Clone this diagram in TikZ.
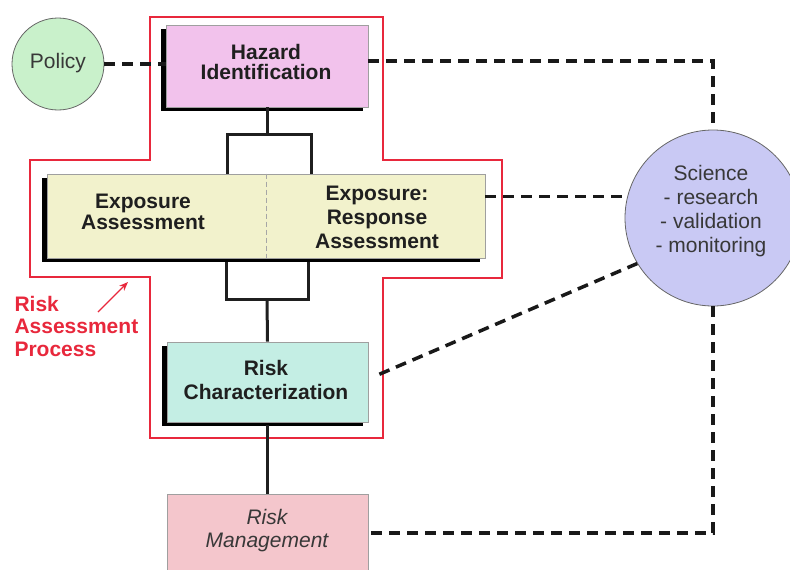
\documentclass[tikz,border=0pt]{standalone}
\usepackage{fontspec}
\setmainfont{Liberation Sans}
\usetikzlibrary{shadows,arrows.meta,calc}
\definecolor{polgreen}{HTML}{C9F1CB}
\definecolor{hazpink}{HTML}{F2C2EC}
\definecolor{expyellow}{HTML}{F2F2CC}
\definecolor{rcteal}{HTML}{C4EEE4}
\definecolor{rmpink}{HTML}{F4C6CC}
\definecolor{scilav}{HTML}{C9C9F4}
\definecolor{rared}{HTML}{E8283C}
\definecolor{txtgray}{HTML}{383838}
\begin{document}
\begin{tikzpicture}[x=1pt,y=-1pt,
  box/.style={draw=gray!75, line width=0.7pt, rectangle, inner sep=0pt},
  shad/.style={general shadow={fill=black, shadow xshift=-5pt, shadow yshift=-4pt}},
  circ/.style={draw=gray!80!black, line width=0.8pt, circle, inner sep=0pt},
  lbl/.style={font=\fontsize{21}{22}\selectfont\bfseries, align=center, text=black!88},
  plain/.style={font=\fontsize{21}{24}\selectfont, align=center, text=txtgray},
  conn/.style={line width=3pt, black!88},
  dconn/.style={line width=3.5pt, dash pattern=on 11pt off 7pt, black!90},
  redline/.style={draw=rared, line width=1.1pt},
]
\useasboundingbox (0,0) rectangle (790,570);

% red risk assessment outline
\draw[redline] (150,17) -- (383,17) -- (383,160) -- (502,160) -- (502,278)
  -- (383,278) -- (383,438) -- (150,438) -- (150,277) -- (30,277) -- (30,160)
  -- (150,160) -- cycle;

% boxes
\node[box, shad, fill=hazpink, minimum width=202pt, minimum height=82pt] (haz) at (267,66) {};
\node[lbl, font=\fontsize{21}{20}\selectfont\bfseries] (hazt) at (266,62) {Hazard\\Identification};

\node[box, shad, fill=expyellow, minimum width=438pt, minimum height=84pt] (exp) at (266,216) {};
\draw[gray!70, line width=0.8pt, dash pattern=on 5pt off 3pt] (exp.north) -- (exp.south);
\node[lbl, font=\fontsize{21}{21}\selectfont\bfseries] (expl) at (143,212) {Exposure\\Assessment};
\node[lbl, font=\fontsize{21}{24}\selectfont\bfseries] (expr) at (377,217) {Exposure:\\Response\\Assessment};

\node[box, shad, fill=rcteal, minimum width=201pt, minimum height=80pt] (rc) at (267.5,382) {};
\node[lbl, font=\fontsize{21}{24}\selectfont\bfseries] (rct) at (266,380) {Risk\\Characterization};

\node[box, fill=rmpink, minimum width=201pt, minimum height=78pt] (rm) at (267.5,533) {};
\node[plain, font=\fontsize{21}{23}\selectfont\itshape] (rmt) at (267,531) {Risk\\Management};

% circles
\node[circ, fill=polgreen, minimum size=92pt] (pol) at (58,64) {};
\node[plain] (polt) at (58,63) {Policy};

\node[circ, fill=scilav, minimum size=176pt] (sci) at (713,218) {};
\node[plain] (scit) at (711,211) {Science\\- research\\- validation\\- monitoring};

% red label and arrow
\node[font=\fontsize{21}{22.5}\selectfont\bfseries, text=rared, align=left, anchor=west] (rap) at (11,326) {Risk\\Assessment\\Process};
\coordinate (arrtail) at (98,312);
\coordinate (arrtip) at (128,282);
\draw[draw=rared, line width=1.2pt, -{Stealth[length=9pt,width=7pt]}] (arrtail) -- (arrtip);

% solid connectors
\coordinate (ub) at (267,134);
\coordinate (ubl) at (227,134);
\coordinate (ubr) at (311,134);
\draw[conn] (haz.south) -- (ub);
\draw[conn] (ubl |- exp.north) -- (ubl) -- (ubr) -- (ubr |- exp.north);
\coordinate (lb) at (267,299);
\coordinate (lbl) at (226,299);
\coordinate (lbr) at (308,299);
\draw[conn] ($(lbl |- exp.south)+(0,4)$) -- (lbl) -- (lbr) -- ($(lbr |- exp.south)+(0,4)$);
\draw[conn] (lb) -- (rc.north);
\draw[conn] ($(rc.south)+(0,3)$) -- (rm.north);

% dashed connectors
\draw[dconn] (pol.east) -- (pol.east -| haz.west);
\draw[dconn] (haz.east |- 0,61) -| (sci.north);
\draw[dconn] (exp.east |- sci.166) -- (sci.166);
\draw[dconn, shorten <=12pt] ($(rc.east)+(0,-3)$) -- (sci.211);
\draw[dconn] (sci.south) |- (rm.east);
\end{tikzpicture}
\end{document}
